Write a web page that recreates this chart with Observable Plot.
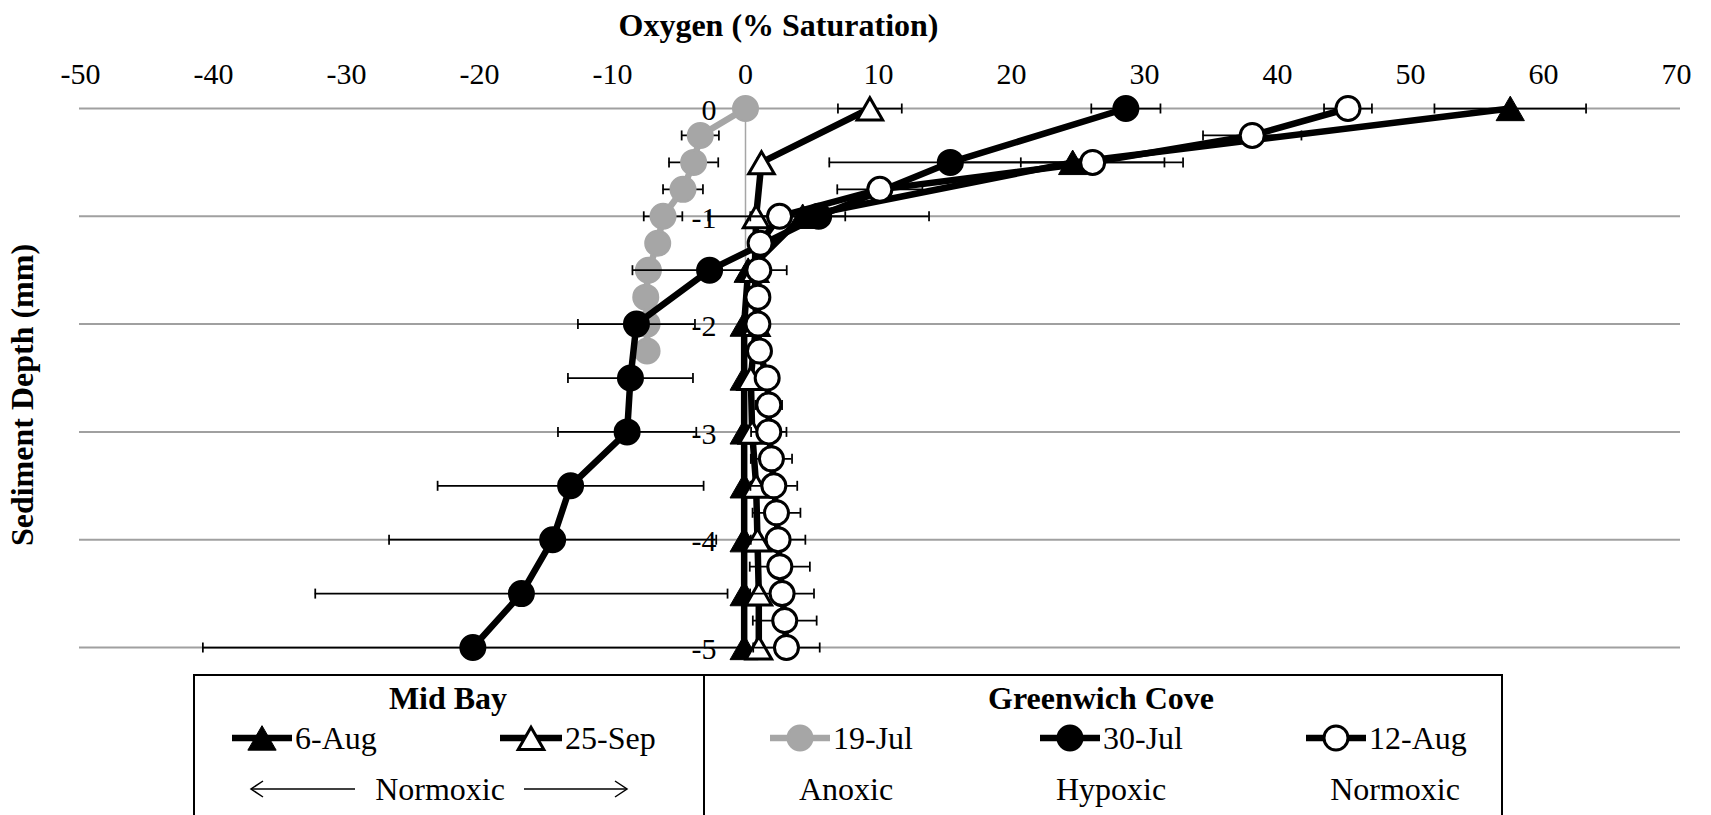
<!DOCTYPE html>
<html>
<head>
<meta charset="utf-8">
<script src="https://cdn.jsdelivr.net/npm/d3@7"></script>
<script src="https://cdn.jsdelivr.net/npm/@observablehq/plot@0.6"></script>
<style>
html, body { margin: 0; padding: 0; background: #fff; }
#wrap { position: relative; width: 1711px; height: 815px; overflow: hidden; font-family: "Liberation Serif", "DejaVu Serif", "Times New Roman", serif; color: #000; }
#chart svg { display: block; }
.lg { position: absolute; white-space: nowrap; font-size: 32px; line-height: 1; }
.c { transform: translate(-50%, -50%); }
.l { transform: translate(0, -50%); }
.b { font-weight: bold; font-size: 32px; }
#box { position: absolute; left: 193px; top: 674px; width: 1310px; height: 200px; border: 2px solid #000; box-sizing: border-box; }
#div { position: absolute; left: 703px; top: 674px; width: 0; height: 200px; border-left: 2px solid #000; }
</style>
</head>
<body>
<div id="wrap">
  <div id="chart"></div>
  <div id="box"></div>
  <div id="div"></div>
</div>
<script>
// ---------- data ----------
const xTicks = [-50, -40, -30, -20, -10, 0, 10, 20, 30, 40, 50, 60, 70];
const yTicks = [0, -1, -2, -3, -4, -5];

const depthQuarter = [0, -0.25, -0.5, -0.75, -1, -1.25, -1.5, -1.75, -2, -2.25, -2.5, -2.75, -3, -3.25, -3.5, -3.75, -4, -4.25, -4.5, -4.75, -5];
const depthHalf = [0, -0.5, -1, -1.5, -2, -2.5, -3, -3.5, -4, -4.5, -5];
const depthJul19 = [0, -0.25, -0.5, -0.75, -1, -1.25, -1.5, -1.75, -2, -2.25];

// Mid Bay
const aug6Values = [57.5, 24.6, 4.3, 0.2, -0.1, -0.1, -0.1, -0.1, -0.1, -0.1, -0.1];
const aug6Errors = [5.7, 8.3, 3.2, 0.3, 0.2, 0.2, 0.2, 0.2, 0.2, 0.2, 0.2];
const sep25Values = [9.35, 1.2, 0.8, 0.7, 0.8, 0.4, 0.5, 0.8, 0.9, 1.0, 1.0];
const sep25Errors = [2.4, 0.3, 0.3, 0.3, 0.3, 0.3, 0.3, 0.3, 0.3, 0.3, 0.3];
// Greenwich Cove
const jul19Values = [0, -3.4, -3.9, -4.7, -6.2, -6.6, -7.3, -7.5, -7.4, -7.4];
const jul19Errors = [0, 1.4, 1.85, 1.5, 1.45, 0.4, 0.4, 0.4, 0.4, 0.4];
const jul30Values = [28.6, 15.4, 5.5, -2.7, -8.2, -8.65, -8.9, -13.15, -14.5, -16.85, -20.5];
const jul30Errors = [2.6, 9.1, 8.3, 5.8, 4.4, 4.7, 5.2, 10.0, 12.3, 15.5, 20.3];
const aug12Values = [45.3, 38.1, 26.1, 10.1, 2.56, 1.1, 1.0, 0.93, 0.93, 1.05, 1.63, 1.75, 1.75, 1.95, 2.13, 2.33, 2.45, 2.58, 2.75, 2.95, 3.08];
const aug12Errors = [1.8, 3.7, 5.4, 3.2, 2.2, 0.5, 0.5, 0.5, 0.5, 0.5, 0.6, 1.0, 1.33, 1.55, 1.76, 1.8, 2.05, 2.26, 2.4, 2.4, 2.5];

const seriesNames = ["6-Aug", "25-Sep", "19-Jul", "30-Jul", "12-Aug"];
const groupNames = ["Mid Bay", "Greenwich Cove"];
const statusNames = ["Normoxic", "Anoxic", "Hypoxic", "Normoxic"];

// ---------- styles ----------
const FONT = '"Liberation Serif", "DejaVu Serif", "Times New Roman", serif';
const styles = {
  "6-Aug":  {symbol: "triangle", r: 10.5, fill: "#000", stroke: "#000", sw: 1, line: "#000", dy: 4},
  "25-Sep": {symbol: "triangle", r: 9.5, fill: "#fff", stroke: "#000", sw: 3, line: "#000", dy: 4},
  "19-Jul": {symbol: "circle", r: 12.5, fill: "#a6a6a6", stroke: "#a6a6a6", sw: 2, line: "#a6a6a6", dy: 0},
  "30-Jul": {symbol: "circle", r: 12.5, fill: "#000", stroke: "#000", sw: 2, line: "#000", dy: 0},
  "12-Aug": {symbol: "circle", r: 12, fill: "#fff", stroke: "#000", sw: 3, line: "#000", dy: 0}
};

const seriesData = {
  "6-Aug": [depthHalf, aug6Values, aug6Errors],
  "25-Sep": [depthHalf, sep25Values, sep25Errors],
  "19-Jul": [depthJul19, jul19Values, jul19Errors],
  "30-Jul": [depthHalf, jul30Values, jul30Errors],
  "12-Aug": [depthQuarter, aug12Values, aug12Errors]
};

const capSymbol = {
  draw(ctx, size) {
    const h = Math.sqrt(size / Math.PI);
    ctx.moveTo(0, -h);
    ctx.lineTo(0, h);
  }
};

function seriesMarks(name) {
  const [depths, vals, errs] = seriesData[name];
  const s = styles[name];
  const rows = depths.map((d, i) => ({depth: d, v: vals[i], e: errs[i]}));
  const err = rows.filter(d => d.e > 0);
  return [
    Plot.ruleY(err, {y: "depth", x1: d => d.v - d.e, x2: d => d.v + d.e, stroke: "#000", strokeWidth: 1.75}),
    Plot.dot(err, {x: d => d.v - d.e, y: "depth", symbol: capSymbol, r: 5, stroke: "#000", strokeWidth: 1.75, fill: "none"}),
    Plot.dot(err, {x: d => d.v + d.e, y: "depth", symbol: capSymbol, r: 5, stroke: "#000", strokeWidth: 1.75, fill: "none"}),
    Plot.line(rows, {x: "v", y: "depth", stroke: s.line, strokeWidth: 6.5, strokeLinejoin: "round", strokeLinecap: "round"}),
    Plot.dot(rows, {x: "v", y: "depth", symbol: s.symbol, r: s.r, fill: s.fill, stroke: s.stroke, strokeWidth: s.sw, dy: s.dy})
  ];
}

const chart = Plot.plot({
  width: 1711,
  height: 672,
  marginTop: 108,
  marginBottom: 25,
  marginLeft: 80,
  marginRight: 35,
  style: {fontFamily: FONT, fontSize: "30px", color: "#000", background: "#fff", overflow: "visible"},
  x: {domain: [-50, 70], axis: null},
  y: {domain: [-5, 0], axis: null},
  marks: [
    Plot.ruleY(yTicks, {stroke: "#a0a0a0", strokeWidth: 2, insetLeft: -1, insetRight: -4}),
    Plot.ruleX([0], {stroke: "#a6a6a6", strokeWidth: 1.5}),
    Plot.axisX(xTicks, {anchor: "top", tickSize: 0, tickPadding: 25, tickFormat: d => String(d), label: null, fontSize: 30, fontFamily: FONT}),
    Plot.text(yTicks, {x: () => 0, y: d => d, text: d => String(d), textAnchor: "end", dx: -29, dy: 2, fontSize: 30, fontFamily: FONT}),
    ...seriesNames.flatMap(seriesMarks),
    Plot.text(["Oxygen (% Saturation)"], {frameAnchor: "top", lineAnchor: "middle", textAnchor: "middle", dx: -100, dy: -83, fontWeight: "bold", fontSize: 32, fontFamily: FONT}),
    Plot.text(["Sediment Depth (mm)"], {frameAnchor: "left", lineAnchor: "middle", textAnchor: "middle", rotate: -90, dx: -58, dy: 17, fontWeight: "bold", fontSize: 32, fontFamily: FONT})
  ]
});
document.getElementById("chart").appendChild(chart);

// ---------- legend ----------
const wrap = document.getElementById("wrap");
function addText(txt, x, y, cls) {
  const d = document.createElement("div");
  d.className = "lg " + cls;
  d.style.left = x + "px";
  d.style.top = y + "px";
  d.textContent = txt;
  wrap.appendChild(d);
}
function addSample(name, x0, x1, y) {
  const s = styles[name];
  const w = x1 - x0;
  const svg = d3.create("svg").attr("width", w + 20).attr("height", 40)
    .style("position", "absolute").style("left", (x0 - 10) + "px").style("top", (y - 20) + "px");
  svg.append("line").attr("x1", 10).attr("x2", w + 10).attr("y1", 20).attr("y2", 20)
    .attr("stroke", s.line).attr("stroke-width", 6.5);
  const sym = s.symbol === "circle" ? d3.symbolCircle : d3.symbolTriangle;
  svg.append("path").attr("d", d3.symbol(sym, Math.PI * s.r * s.r)())
    .attr("transform", `translate(${10 + w / 2},${20 + s.dy})`)
    .attr("fill", s.fill).attr("stroke", s.stroke).attr("stroke-width", s.sw);
  wrap.appendChild(svg.node());
}
function addArrow(x0, x1, y, dir) {
  const svg = d3.create("svg").attr("width", x1 - x0 + 4).attr("height", 30)
    .style("position", "absolute").style("left", (x0 - 2) + "px").style("top", (y - 15) + "px");
  const L = 2, R = x1 - x0 + 2;
  svg.append("line").attr("x1", L).attr("x2", R).attr("y1", 15).attr("y2", 15).attr("stroke", "#000").attr("stroke-width", 1.5);
  const tip = dir < 0 ? L : R, back = dir < 0 ? L + 12 : R - 12;
  svg.append("path").attr("d", `M${back},7 L${tip},15 L${back},23`).attr("fill", "none").attr("stroke", "#000").attr("stroke-width", 1.5);
  wrap.appendChild(svg.node());
}

addText(groupNames[0], 448, 698, "c b");
addText(groupNames[1], 1101, 698, "c b");

const sampleSpans = [[232, 292], [500, 562], [770, 830], [1040, 1100], [1306, 1366]];
seriesNames.forEach((n, i) => {
  const [a, b] = sampleSpans[i];
  addSample(n, a, b, 738);
  addText(n, b + 3, 738, "l");
});

addArrow(251, 355, 789, -1);
addText(statusNames[0], 440, 789, "c");
addArrow(524, 627, 789, 1);
addText(statusNames[1], 846, 789, "c");
addText(statusNames[2], 1111, 789, "c");
addText(statusNames[3], 1395, 789, "c");
</script>
</body>
</html>
